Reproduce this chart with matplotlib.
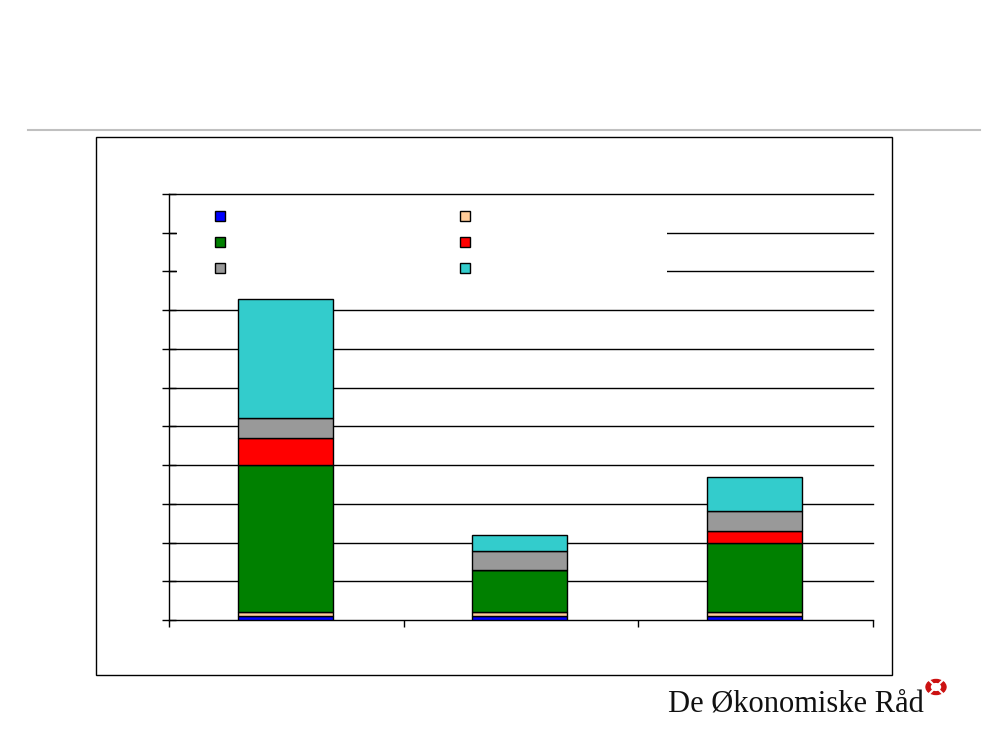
import matplotlib.pyplot as plt
from matplotlib.lines import Line2D
from matplotlib.patches import Rectangle, Circle

# stacked components, bottom to top, in grid units (one unit per gridline)
categories = ["", "", ""]
series_names = ["", "", "", "", "", ""]
series_colors = ["#0000ff", "#ffcc99", "#008000", "#ff0000", "#999999", "#33cccc"]
blue = [0.1, 0.1, 0.1]
peach = [0.1, 0.1, 0.1]
green = [3.8, 1.09, 1.8]
red = [0.7, 0.0, 0.3]
gray = [0.52, 0.49, 0.51]
cyan = [3.07, 0.41, 0.88]
series = [blue, peach, green, red, gray, cyan]
# legend reads row by row: blue/peach, green/red, gray/cyan
legend_order = [0, 2, 4, 1, 3, 5]

fig = plt.figure(figsize=(10, 7.5), dpi=100)

# header rule and outer chart frame
fig.add_artist(Line2D([0.028, 0.98], [1 - 130 / 750] * 2, color="#c0c0c0", lw=1.5))
fig.add_artist(Rectangle((0.096, 1 - 675 / 750), 0.796, (675 - 137) / 750,
                         fill=False, edgecolor="black", lw=1.0))

ax = fig.add_axes([0.169, 1 - 620 / 750, 0.704, (620 - 194) / 750])
x = list(range(len(categories)))
bottom = [0.0] * len(x)
for vals, color, name in zip(series, series_colors, series_names):
    ax.bar([xi - 0.005 for xi in x], vals, width=0.405, bottom=bottom, color=color,
           edgecolor="black", linewidth=1.0, zorder=3, label=name)
    bottom = [b + v for b, v in zip(bottom, vals)]

ax.set_xlim(-0.5, 2.5)
ax.set_ylim(0, 11)
ax.set_yticks(range(12))
ax.set_yticklabels([])
ax.set_xticks([-0.5, 0.5, 1.5, 2.5])
ax.set_xticklabels([])
ax.tick_params(axis="y", direction="inout", length=10, width=1)
ax.tick_params(axis="x", direction="out", length=5, width=1)
for yv in range(1, 12):
    ax.axhline(yv, color="black", lw=1.0, zorder=1, clip_on=False)
ax.spines["top"].set_visible(False)
ax.spines["right"].set_visible(False)
ax.spines["left"].set_linewidth(1.0)
ax.spines["bottom"].set_linewidth(1.0)

# white legend area hiding the gridlines
ax.add_patch(Rectangle((0.012, 0.786), 0.696, 0.2, transform=ax.transAxes,
                       facecolor="white", edgecolor="none", zorder=2))
handles = [Line2D([], [], marker="s", linestyle="none", markersize=6.5,
                  markerfacecolor=series_colors[i], markeredgecolor="black",
                  markeredgewidth=1.0)
           for i in legend_order]
labels = [series_names[i] for i in legend_order]
leg = ax.legend(handles, labels, ncol=2, frameon=False,
                loc="upper left", bbox_to_anchor=(0.055, 0.975),
                handlelength=1.0, handletextpad=0.0, columnspacing=16.6,
                labelspacing=0.85, fontsize=10, borderaxespad=0)
leg.set_zorder(4)

# logo
fig.text(0.668, 1 - 704 / 750, "De Økonomiske Råd", family="Liberation Serif",
         fontsize=22, va="center", ha="left", color="#111111")
logo_xy = (0.936, 1 - 687 / 750)
fig.add_artist(Circle(logo_xy, 0.01, transform=fig.transFigure, color="#cc1111"))
fig.add_artist(Circle(logo_xy, 0.0045, transform=fig.transFigure, color="white"))
d = 0.0085
fig.add_artist(Line2D([logo_xy[0] - d, logo_xy[0] + d], [logo_xy[1] - d * 4 / 3, logo_xy[1] + d * 4 / 3],
                      color="white", lw=1.5))
fig.add_artist(Line2D([logo_xy[0] - d, logo_xy[0] + d], [logo_xy[1] + d * 4 / 3, logo_xy[1] - d * 4 / 3],
                      color="white", lw=1.5))

fig.savefig("out.png", dpi=100)
